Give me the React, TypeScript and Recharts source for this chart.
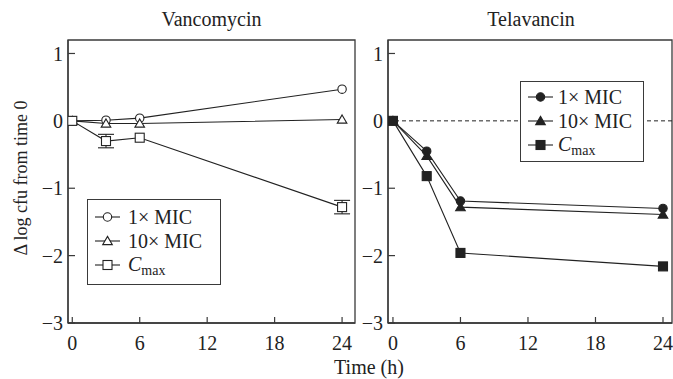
import React from "react";
import { ErrorBar, Legend, Line, LineChart, ReferenceArea, ReferenceLine, XAxis, YAxis } from "recharts";

const hours = [0, 3, 6, 24];
const vancoMic1 = [0, 0.01, 0.04, 0.47];
const vancoMic10 = [0, -0.04, -0.04, 0.02];
const vancoCmax = [0, -0.3, -0.25, -1.28];
const vancoCmaxErr = [0, 0.1, 0, 0.1];
const telaMic1 = [0, -0.45, -1.19, -1.3];
const telaMic10 = [0, -0.52, -1.28, -1.39];
const telaCmax = [0, -0.82, -1.96, -2.16];
const xTicks = [0, 6, 12, 18, 24];
const yTicks = [-3, -2, -1, 0, 1];
const yDomain: [number, number] = [-3, 1.2];

const INK = "#222";
const AXIS = "#3a3a3a";
const FONT = "'Liberation Serif', 'Times New Roman', serif";

type Shape = "circle" | "triangle" | "square";

const vancoData = hours.map((t, i) => ({
  t,
  mic1: vancoMic1[i],
  mic10: vancoMic10[i],
  cmax: vancoCmax[i],
  err: vancoCmaxErr[i],
}));
const telaData = hours.map((t, i) => ({
  t,
  mic1: telaMic1[i],
  mic10: telaMic10[i],
  cmax: telaCmax[i],
}));

function Marker({ cx, cy, shape, filled }: { cx: number; cy: number; shape: Shape; filled: boolean }) {
  const fill = filled ? INK : "#fff";
  if (shape === "circle") return <circle cx={cx} cy={cy} r={4.2} fill={fill} stroke={INK} strokeWidth={1.1} />;
  if (shape === "square")
    return <rect x={cx - 4.5} y={cy - 4.5} width={9} height={9} fill={fill} stroke={INK} strokeWidth={1.1} />;
  return (
    <polygon
      points={`${cx},${cy - 4.6} ${cx + 4.8},${cy + 3.6} ${cx - 4.8},${cy + 3.6}`}
      fill={fill}
      stroke={INK}
      strokeWidth={1.1}
    />
  );
}

const fmt = (v: number) => (v < 0 ? `\u2212${-v}` : `${v}`);

const series: { key: string; shape: Shape; label: React.ReactNode }[] = [
  { key: "mic1", shape: "circle", label: "1\u00d7 MIC" },
  { key: "mic10", shape: "triangle", label: "10\u00d7 MIC" },
  {
    key: "cmax",
    shape: "square",
    label: (
      <>
        <i>C</i>
        <sub style={{ fontSize: 14, verticalAlign: -4, lineHeight: 1 }}>max</sub>
      </>
    ),
  },
];

function LegendBox({ filled, width, height, padTop, gap }: { filled: boolean; width: number; height: number; padTop: number; gap: number }) {
  return (
    <div
      style={{
        width,
        height,
        boxSizing: "border-box",
        border: `1.3px solid ${AXIS}`,
        background: "#fff",
        paddingTop: padTop,
        paddingLeft: 7,
        fontFamily: FONT,
        fontSize: 20,
        color: INK,
      }}
    >
      {series.map((s) => (
        <div key={s.key} style={{ height: 24, display: "flex", alignItems: "center", lineHeight: "22px" }}>
          <svg width={25} height={14} style={{ marginRight: gap, flex: "none" }}>
            <line x1={0} x2={25} y1={7} y2={7} stroke={INK} strokeWidth={1.1} />
            <Marker cx={12.5} cy={7} shape={s.shape} filled={filled} />
          </svg>
          <span>{s.label}</span>
        </div>
      ))}
    </div>
  );
}

function Panel({
  data,
  filled,
  width,
  margin,
  xDomain,
  legend,
  dashedZero,
}: {
  data: any[];
  filled: boolean;
  width: number;
  margin: { top: number; right: number; bottom: number; left: number };
  xDomain: [number, number];
  legend: { left: number; top: number; width: number; height: number; padTop: number; gap: number };
  dashedZero?: boolean;
}) {
  const tick = { fill: INK, fontSize: 20, fontFamily: FONT };
  return (
    <LineChart width={width} height={379} data={data} margin={margin}>
      <XAxis
        dataKey="t"
        type="number"
        domain={xDomain}
        ticks={xTicks}
        allowDataOverflow
        interval={0}
        height={10}
        tick={tick}
        tickFormatter={fmt}
        tickSize={-6}
        tickMargin={19}
        axisLine={{ stroke: AXIS, strokeWidth: 1.3 }}
        tickLine={{ stroke: AXIS, strokeWidth: 1.2 }}
      />
      <YAxis
        type="number"
        domain={yDomain}
        ticks={yTicks}
        allowDataOverflow
        interval={0}
        width={10}
        tick={tick}
        tickFormatter={fmt}
        tickSize={-7}
        tickMargin={12}
        axisLine={{ stroke: AXIS, strokeWidth: 1.3 }}
        tickLine={{ stroke: AXIS, strokeWidth: 1.2 }}
      />
      <ReferenceArea
        x1={xDomain[0]}
        x2={xDomain[1]}
        y1={yDomain[0]}
        y2={yDomain[1]}
        fill="none"
        stroke={AXIS}
        strokeWidth={1.3}
      />
      {dashedZero && <ReferenceLine y={0} stroke={INK} strokeWidth={1} strokeDasharray="4 3" />}
      {series.map((s) => (
        <Line
          key={s.key}
          dataKey={s.key}
          type="linear"
          stroke={INK}
          strokeWidth={1.1}
          isAnimationActive={false}
          dot={(p: any) => (
            <Marker key={`${s.key}-${p.index}`} cx={p.cx} cy={p.cy} shape={s.shape} filled={filled} />
          )}
        >
          {!filled && s.key === "cmax" && (
            <ErrorBar dataKey="err" width={8} stroke={INK} strokeWidth={1.1} direction="y" isAnimationActive={false} />
          )}
        </Line>
      ))}
      <Legend
        layout="horizontal"
        verticalAlign="middle"
        align="center"
        wrapperStyle={{ left: legend.left, top: legend.top, width: legend.width, height: legend.height }}
        content={() => (
          <LegendBox
            filled={filled}
            width={legend.width}
            height={legend.height}
            padTop={legend.padTop}
            gap={legend.gap}
          />
        )}
      />
    </LineChart>
  );
}

export default function App() {
  return (
    <div style={{ position: "absolute", left: 0, top: 0, width: 673, height: 379, background: "#fff", overflow: "hidden" }}>
      <div style={{ position: "absolute", left: 0, top: 0 }}>
        <Panel
          data={vancoData}
          filled={false}
          width={358}
          margin={{ top: 40, right: 3, bottom: 46, left: 58 }}
          xDomain={[-0.38, 25.15]}
          legend={{ left: 87, top: 199, width: 134, height: 86, padTop: 5, gap: 8 }}
        />
      </div>
      <div style={{ position: "absolute", left: 358, top: 0 }}>
        <Panel
          data={telaData}
          filled
          width={315}
          margin={{ top: 40, right: 1, bottom: 46, left: 20 }}
          xDomain={[-0.44, 24.8]}
          legend={{ left: 162, top: 81, width: 124, height: 81, padTop: 3, gap: 5 }}
          dashedZero
        />
      </div>
      <svg
        width={673}
        height={379}
        style={{ position: "absolute", left: 0, top: 0, pointerEvents: "none" }}
        fontFamily={FONT}
        fontSize={20}
        fill={INK}
      >
        <text x={211.5} y={26} textAnchor="middle">Vancomycin</text>
        <text x={531} y={26} textAnchor="middle">Telavancin</text>
        <text x={369} y={374} textAnchor="middle">Time (h)</text>
        <text x={27} y={178} textAnchor="middle" fontSize={18} transform="rotate(-90, 27, 178)">
          {"\u0394 log cfu from time 0"}
        </text>
      </svg>
    </div>
  );
}
